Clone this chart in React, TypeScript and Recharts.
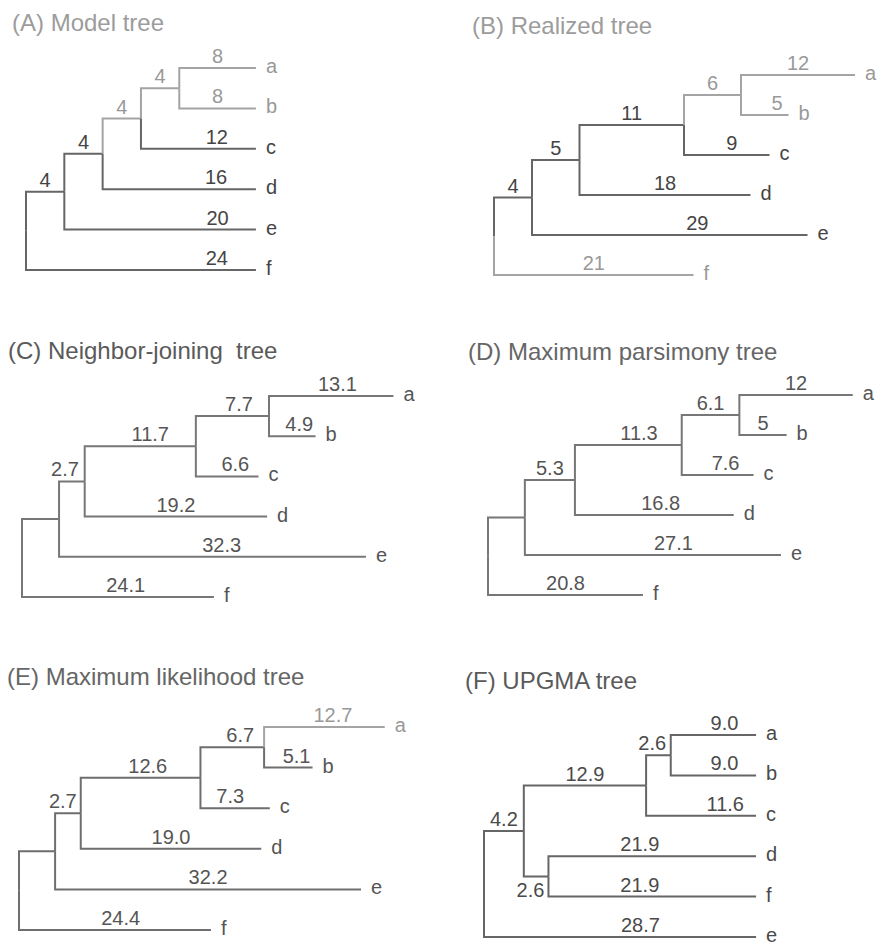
import { ComposedChart, Line, Scatter, XAxis, YAxis } from "recharts";

type Branch = { node: string; parent: string; len: number; label: string };

// tip order (top to bottom) and branches for each tree, parents listed before children
const tipsA = ["a", "b", "c", "d", "e", "f"];
const branchesA: Branch[] = [
  { node: "n1", parent: "root", len: 4, label: "4" },
  { node: "n2", parent: "n1", len: 4, label: "4" },
  { node: "n3", parent: "n2", len: 4, label: "4" },
  { node: "n4", parent: "n3", len: 4, label: "4" },
  { node: "a", parent: "n4", len: 8, label: "8" },
  { node: "b", parent: "n4", len: 8, label: "8" },
  { node: "c", parent: "n3", len: 12, label: "12" },
  { node: "d", parent: "n2", len: 16, label: "16" },
  { node: "e", parent: "n1", len: 20, label: "20" },
  { node: "f", parent: "root", len: 24, label: "24" },
];

const tipsB = ["a", "b", "c", "d", "e", "f"];
const branchesB: Branch[] = [
  { node: "n1", parent: "root", len: 4, label: "4" },
  { node: "n2", parent: "n1", len: 5, label: "5" },
  { node: "n3", parent: "n2", len: 11, label: "11" },
  { node: "n4", parent: "n3", len: 6, label: "6" },
  { node: "a", parent: "n4", len: 12, label: "12" },
  { node: "b", parent: "n4", len: 5, label: "5" },
  { node: "c", parent: "n3", len: 9, label: "9" },
  { node: "d", parent: "n2", len: 18, label: "18" },
  { node: "e", parent: "n1", len: 29, label: "29" },
  { node: "f", parent: "root", len: 21, label: "21" },
];

// NJ / MP / ML trees are rooted on the f branch: the unlabeled stem plus f make up its length
const tipsC = ["a", "b", "c", "d", "e", "f"];
const branchesC: Branch[] = [
  { node: "n1", parent: "root", len: 3.9, label: "" },
  { node: "n2", parent: "n1", len: 2.7, label: "2.7" },
  { node: "n3", parent: "n2", len: 11.7, label: "11.7" },
  { node: "n4", parent: "n3", len: 7.7, label: "7.7" },
  { node: "a", parent: "n4", len: 13.1, label: "13.1" },
  { node: "b", parent: "n4", len: 4.9, label: "4.9" },
  { node: "c", parent: "n3", len: 6.6, label: "6.6" },
  { node: "d", parent: "n2", len: 19.2, label: "19.2" },
  { node: "e", parent: "n1", len: 32.3, label: "32.3" },
  { node: "f", parent: "root", len: 20.2, label: "24.1" },
];

const tipsD = ["a", "b", "c", "d", "e", "f"];
const branchesD: Branch[] = [
  { node: "n1", parent: "root", len: 3.9, label: "" },
  { node: "n2", parent: "n1", len: 5.3, label: "5.3" },
  { node: "n3", parent: "n2", len: 11.3, label: "11.3" },
  { node: "n4", parent: "n3", len: 6.1, label: "6.1" },
  { node: "a", parent: "n4", len: 12, label: "12" },
  { node: "b", parent: "n4", len: 5, label: "5" },
  { node: "c", parent: "n3", len: 7.6, label: "7.6" },
  { node: "d", parent: "n2", len: 16.8, label: "16.8" },
  { node: "e", parent: "n1", len: 27.1, label: "27.1" },
  { node: "f", parent: "root", len: 16.4, label: "20.8" },
];

const tipsE = ["a", "b", "c", "d", "e", "f"];
const branchesE: Branch[] = [
  { node: "n1", parent: "root", len: 3.8, label: "" },
  { node: "n2", parent: "n1", len: 2.7, label: "2.7" },
  { node: "n3", parent: "n2", len: 12.6, label: "12.6" },
  { node: "n4", parent: "n3", len: 6.7, label: "6.7" },
  { node: "a", parent: "n4", len: 12.7, label: "12.7" },
  { node: "b", parent: "n4", len: 5.1, label: "5.1" },
  { node: "c", parent: "n3", len: 7.3, label: "7.3" },
  { node: "d", parent: "n2", len: 19.0, label: "19.0" },
  { node: "e", parent: "n1", len: 32.2, label: "32.2" },
  { node: "f", parent: "root", len: 20.2, label: "24.4" },
];

const tipsF = ["a", "b", "c", "d", "f", "e"];
const branchesF: Branch[] = [
  { node: "n1", parent: "root", len: 4.2, label: "4.2" },
  { node: "n2", parent: "n1", len: 12.9, label: "12.9" },
  { node: "n3", parent: "n2", len: 2.6, label: "2.6" },
  { node: "a", parent: "n3", len: 9.0, label: "9.0" },
  { node: "b", parent: "n3", len: 9.0, label: "9.0" },
  { node: "c", parent: "n2", len: 11.6, label: "11.6" },
  { node: "n4", parent: "n1", len: 2.6, label: "2.6" },
  { node: "d", parent: "n4", len: 21.9, label: "21.9" },
  { node: "f", parent: "n4", len: 21.9, label: "21.9" },
  { node: "e", parent: "root", len: 28.7, label: "28.7" },
];

type Look = {
  title: string;
  titleColor: string;
  left: number;
  rootX: number;
  row0: number;
  scale: number;
  gap: number;
  titleX: number;
  titleBase: number;
  line: string;
  text: string;
  light: string[];
  fracs: Record<string, number>;
  below?: string[];
};

const looks: Look[] = [
  {
    title: "(A) Model tree", titleColor: "#9c9c9c", left: 0, rootX: 26, row0: 68, scale: 9.58, gap: 40.4,
    titleX: 12, titleBase: 31, line: "#666666", text: "#444444", light: ["a", "b", "n4", "n3"],
    fracs: { c: 0.66, d: 0.74, e: 0.8, f: 0.83 },
  },
  {
    title: "(B) Realized tree", titleColor: "#9c9c9c", left: 441, rootX: 494, row0: 75, scale: 9.5, gap: 40,
    titleX: 472, titleBase: 34, line: "#666666", text: "#444444", light: ["a", "b", "n4", "f"],
    fracs: { e: 0.6, b: 0.76, c: 0.56 },
  },
  {
    title: "(C) Neighbor-joining  tree", titleColor: "#5a5a5a", left: 0, rootX: 22, row0: 396, scale: 9.5, gap: 40.2,
    titleX: 8, titleBase: 359, line: "#777777", text: "#555555", light: [],
    fracs: { a: 0.55, n4: 0.59, b: 0.65, n3: 0.59, c: 0.63, n2: 0.23, e: 0.53, f: 0.54 },
  },
  {
    title: "(D) Maximum parsimony tree", titleColor: "#666666", left: 441, rootX: 488, row0: 395, scale: 9.45, gap: 40,
    titleX: 468, titleBase: 360, line: "#777777", text: "#555555", light: [],
    fracs: { n3: 0.6, c: 0.61, d: 0.54, e: 0.58 },
  },
  {
    title: "(E) Maximum likelihood tree", titleColor: "#666666", left: 0, rootX: 19, row0: 727, scale: 9.5, gap: 40.6,
    titleX: 7, titleBase: 685, line: "#6e6e6e", text: "#555555", light: ["a"],
    fracs: { a: 0.57, n4: 0.625, b: 0.67, n3: 0.56, c: 0.43, n2: 0.3, f: 0.53 },
  },
  {
    title: "(F) UPGMA tree", titleColor: "#5a5a5a", left: 441, rootX: 484, row0: 735, scale: 9.48, gap: 40.4,
    titleX: 465, titleBase: 689, line: "#666666", text: "#4a4a4a", light: [],
    fracs: { a: 0.63, b: 0.63, c: 0.72, n3: 0.25, d: 0.44, f: 0.44, e: 0.575, n4: 0.27 },
    below: ["n4"],
  },
];

const trees = [
  { tips: tipsA, branches: branchesA },
  { tips: tipsB, branches: branchesB },
  { tips: tipsC, branches: branchesC },
  { tips: tipsD, branches: branchesD },
  { tips: tipsE, branches: branchesE },
  { tips: tipsF, branches: branchesF },
];

const FONT = "'Liberation Sans', Arial, Helvetica, sans-serif";
const LIGHT_LINE = "#a4a4a4";
const LIGHT_TEXT = "#999999";

function layoutTree(tips: string[], branches: Branch[]) {
  const x: Record<string, number> = { root: 0 };
  branches.forEach((b) => {
    x[b.node] = x[b.parent] + b.len;
  });
  const y: Record<string, number> = {};
  tips.forEach((t, i) => {
    y[t] = i;
  });
  const getY = (n: string): number => {
    if (y[n] !== undefined) return y[n];
    const kids = branches.filter((b) => b.parent === n).map((b) => b.node);
    const v = kids.reduce((s, k) => s + getY(k), 0) / kids.length;
    y[n] = v;
    return v;
  };
  getY("root");
  return { x, y };
}

function TreePanel({ tips, branches, look }: { tips: string[]; branches: Branch[]; look: Look }) {
  const { x, y } = layoutTree(tips, branches);
  const width = 441;
  const top = look.row0 - 40;
  const height = 5 * look.gap + 72;
  const xDomain = [(look.left - look.rootX) / look.scale, (look.left + width - look.rootX) / look.scale];
  const yDomain = [(top - look.row0) / look.gap, (top + height - look.row0) / look.gap];

  const paths = branches.map((b) => ({
    id: b.node,
    light: look.light.includes(b.node),
    pts: [
      { x: x[b.parent], y: y[b.parent] },
      { x: x[b.parent], y: y[b.node] },
      { x: x[b.node], y: y[b.node] },
    ],
  }));

  const labelPts = branches
    .filter((b) => b.label !== "")
    .map((b) => ({
      x: x[b.parent] + b.len * (look.fracs[b.node] ?? 0.5),
      y: y[b.node],
      text: b.label,
      below: (look.below ?? []).includes(b.node),
      light: look.light.includes(b.node),
    }));

  const tipPts = tips.map((t) => ({ x: x[t], y: y[t], text: t, light: look.light.includes(t) }));

  return (
    <>
      <div
        style={{
          position: "absolute",
          left: look.titleX,
          top: look.titleBase - 20,
          fontFamily: FONT,
          fontSize: 24,
          lineHeight: "24px",
          color: look.titleColor,
          whiteSpace: "pre",
        }}
      >
        {look.title}
      </div>
      <div style={{ position: "absolute", left: look.left, top }}>
        <ComposedChart width={width} height={height} margin={{ top: 0, right: 0, bottom: 0, left: 0 }}>
          <XAxis type="number" dataKey="x" domain={xDomain} hide allowDataOverflow />
          <YAxis type="number" dataKey="y" domain={yDomain} hide reversed allowDataOverflow />
          {paths.map((p) => (
            <Line
              key={p.id}
              data={p.pts}
              dataKey="y"
              type="linear"
              stroke={p.light ? LIGHT_LINE : look.line}
              strokeWidth={2}
              dot={false}
              activeDot={false}
              isAnimationActive={false}
            />
          ))}
          <Scatter
            data={labelPts}
            dataKey="y"
            isAnimationActive={false}
            shape={(p: any) => (
              <text
                x={p.cx}
                y={p.cy + (p.payload.below ? 21 : -5)}
                textAnchor="middle"
                fontFamily={FONT}
                fontSize={20}
                fill={p.payload.light ? LIGHT_TEXT : look.text}
              >
                {p.payload.text}
              </text>
            )}
          />
          <Scatter
            data={tipPts}
            dataKey="y"
            isAnimationActive={false}
            shape={(p: any) => (
              <text
                x={p.cx + 10}
                y={p.cy + 5}
                textAnchor="start"
                fontFamily={FONT}
                fontSize={20}
                fill={p.payload.light ? LIGHT_TEXT : look.text}
              >
                {p.payload.text}
              </text>
            )}
          />
        </ComposedChart>
      </div>
    </>
  );
}

export default function App() {
  return (
    <div
      style={{
        position: "absolute",
        left: 0,
        top: 0,
        width: 882,
        height: 944,
        background: "#ffffff",
        overflow: "hidden",
      }}
    >
      {trees.map((t, i) => (
        <TreePanel key={i} tips={t.tips} branches={t.branches} look={looks[i]} />
      ))}
    </div>
  );
}
